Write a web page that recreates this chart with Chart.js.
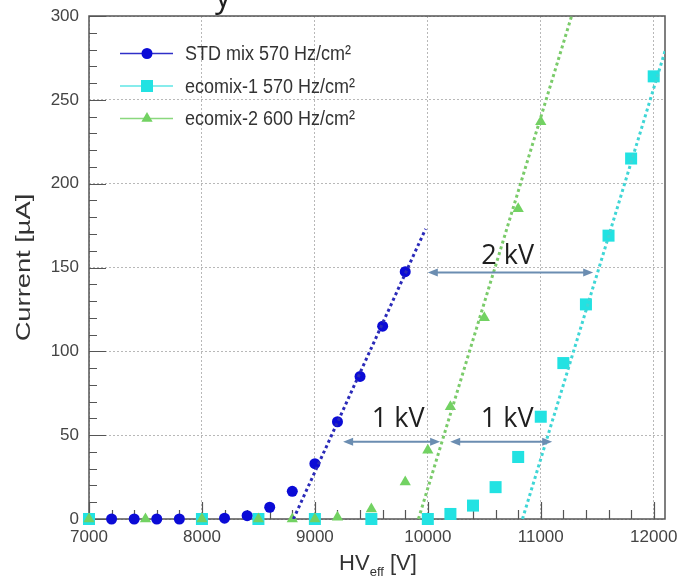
<!DOCTYPE html>
<html><head><meta charset="utf-8">
<script src="https://cdn.jsdelivr.net/npm/chart.js@4.4.1/dist/chart.umd.min.js"></script>
<style>html,body{margin:0;padding:0;background:#fff}#wrap{width:679px;height:580px;position:relative}</style>
</head><body><div id="wrap"><canvas id="c" width="679" height="580"></canvas></div>
<script>
// ---- data ----
const seriesNames = ['STD mix 570 Hz/cm²', 'ecomix-1 570 Hz/cm²', 'ecomix-2 600 Hz/cm²'];
const stdHV       = [7200, 7400, 7600, 7800, 8200, 8400, 8600, 8800, 9000, 9200, 9400, 9600, 9800];
const stdCurrent  = [0, 0, 0, 0, 0.5, 2, 7, 16.5, 33, 58, 85, 115, 147.5];
const eco1HV      = [7000, 8000, 8500, 9000, 9500, 10000, 10200, 10400, 10600, 10800, 11000, 11200, 11400, 11600, 11800, 12000];
const eco1Current = [0, 0, 0, 0, 0, 0, 3, 8, 19, 37, 61, 93, 128, 169, 215, 264];
const eco2HV      = [7000, 7500, 8000, 8500, 8800, 9000, 9200, 9500, 9800, 10000, 10200, 10500, 10800, 11000];
const eco2Current = [0, 0, 0, 0, 0, 0, 1, 6, 22, 41, 67, 120, 185, 237];
const stdFitHV  = [8810, 9980],   stdFitCurrent  = [0, 173];
const eco1FitHV = [10838, 12100], eco1FitCurrent = [0, 279];
const eco2FitHV = [9917, 11273],  eco2FitCurrent = [0, 300];
const xTicks = [7000, 8000, 9000, 10000, 11000, 12000];
const xTickLabels = ['7000', '8000', '9000', '10000', '11000', '12000'];
const yTicks = [0, 50, 100, 150, 200, 250, 300];
const yTickLabels = ['0', '50', '100', '150', '200', '250', '300'];
const xTitle = ['HV', 'eff', ' [V]'];
const yTitle = 'Current [µA]';
const arrowText = ['2 kV', '1 kV', '1 kV'];
const arrowFrom = [10000, 9250, 10198];
const arrowTo   = [11464, 10109, 11101];
const arrowAt   = [147, 46, 46];
const textX = [10707, 9737, 10702];
const textY = [158, 60.7, 60.7];

// ---- styles ----
const FONT = "'Liberation Sans', Arial, Helvetica, sans-serif";
const BLUE = '#0b0bd6', CYAN = '#22e2e2', GREEN = '#72d262';
const BLUE_L = '#2a2ab8', CYAN_L = '#3fd6d6', GREEN_L = '#7acb6a';
const toXY = (xs, ys) => xs.map((x, i) => ({x: x, y: ys[i]}));

function marker(ctx, style, x, y, r, color) {
  ctx.fillStyle = color;
  ctx.beginPath();
  if (style === 'circle') ctx.arc(x, y, r, 0, Math.PI * 2);
  else if (style === 'rect') { const s = r * Math.SQRT1_2; ctx.rect(x - s, y - s, 2 * s, 2 * s); }
  else { ctx.moveTo(x, y - r); ctx.lineTo(x + r * 0.866, y + r / 2); ctx.lineTo(x - r * 0.866, y + r / 2); ctx.closePath(); }
  ctx.fill();
}

const framePlugin = {
  id: 'framePlugin',
  beforeDatasetsDraw(chart) {
    const {ctx, chartArea: a, scales: {x, y}} = chart;
    ctx.save();
    ctx.strokeStyle = '#555'; ctx.lineWidth = 1.2;
    ctx.beginPath();
    for (let v = 7000; v <= 12000; v += 200) {
      const px = Math.round(x.getPixelForValue(v)) + 0.5;
      const L = v % 1000 === 0 ? 17 : 9;
      ctx.moveTo(px, a.bottom); ctx.lineTo(px, a.bottom - L);
    }
    for (let v = 0; v <= 300; v += 10) {
      const py = Math.round(y.getPixelForValue(v)) + 0.5;
      const L = v % 50 === 0 ? 17 : 8;
      ctx.moveTo(a.left, py); ctx.lineTo(a.left + L, py);
    }
    ctx.stroke();
    ctx.lineWidth = 1.5;
    ctx.strokeRect(a.left, a.top, a.right - a.left, a.bottom - a.top);
    ctx.restore();
  }
};

const annotPlugin = {
  id: 'annotPlugin',
  afterDatasetsDraw(chart) {
    const {ctx, scales: {x, y}} = chart;
    ctx.save();
    ctx.strokeStyle = '#6b8db1'; ctx.fillStyle = '#6b8db1'; ctx.lineWidth = 2;
    for (let i = 0; i < arrowText.length; i++) {
      const x1 = x.getPixelForValue(arrowFrom[i]), x2 = x.getPixelForValue(arrowTo[i]);
      const py = y.getPixelForValue(arrowAt[i]);
      ctx.beginPath(); ctx.moveTo(x1 + 6, py); ctx.lineTo(x2 - 6, py); ctx.stroke();
      ctx.beginPath(); ctx.moveTo(x1, py); ctx.lineTo(x1 + 10, py - 4); ctx.lineTo(x1 + 10, py + 4); ctx.closePath(); ctx.fill();
      ctx.beginPath(); ctx.moveTo(x2, py); ctx.lineTo(x2 - 10, py - 4); ctx.lineTo(x2 - 10, py + 4); ctx.closePath(); ctx.fill();
    }
    ctx.fillStyle = '#1e1e1e';
    ctx.font = "27px 'Open Sans', 'Noto Sans', sans-serif";
    ctx.textAlign = 'center'; ctx.textBaseline = 'alphabetic';
    for (let i = 0; i < arrowText.length; i++) {
      ctx.fillText(arrowText[i], x.getPixelForValue(textX[i]), y.getPixelForValue(textY[i]) + 9.6);
    }
    ctx.restore();
  },
  afterDraw(chart) {
    const {ctx, chartArea: a} = chart;
    ctx.save();
    // clipped title fragment at top
    ctx.fillStyle = '#1e1e1e';
    ctx.font = "32px 'Open Sans', sans-serif";
    ctx.textAlign = 'center'; ctx.textBaseline = 'alphabetic';
    ctx.fillText('y', 223, 7);
    // legend
    const styles = ['circle', 'rect', 'triangle'];
    const cols = [BLUE, CYAN, GREEN];
    const lcols = ['#3030c8', '#5fe6e6', '#8ad87e'];
    const radii = [5.5, 8.5, 6.5];
    for (let i = 0; i < 3; i++) {
      const ly = a.top + 37.5 + i * 32.5;
      ctx.strokeStyle = lcols[i]; ctx.lineWidth = 1.5;
      ctx.beginPath(); ctx.moveTo(a.left + 31, ly); ctx.lineTo(a.left + 84, ly); ctx.stroke();
      marker(ctx, styles[i], a.left + 58, ly, radii[i], cols[i]);
      ctx.save();
      ctx.translate(a.left + 96, ly + 6.5);
      ctx.scale(1, 1.17);
      ctx.fillStyle = '#333';
      ctx.font = '18px ' + FONT;
      ctx.textAlign = 'left';
      ctx.fillText(seriesNames[i], 0, 0);
      ctx.restore();
    }
    // x title with subscript
    ctx.fillStyle = '#333';
    ctx.font = '22px ' + FONT;
    const w0 = ctx.measureText(xTitle[0]).width, w2 = ctx.measureText(xTitle[2]).width;
    ctx.font = '13px ' + FONT;
    const w1 = ctx.measureText(xTitle[1]).width;
    let tx = 378 - (w0 + w1 + w2) / 2;
    ctx.textAlign = 'left';
    ctx.font = '22px ' + FONT; ctx.fillText(xTitle[0], tx, 570); tx += w0;
    ctx.font = '13px ' + FONT; ctx.fillText(xTitle[1], tx, 576); tx += w1;
    ctx.font = '22px ' + FONT; ctx.fillText(xTitle[2], tx, 570);
    // y title (rotated)
    ctx.save();
    ctx.translate(30, (a.top + a.bottom) / 2);
    ctx.rotate(-Math.PI / 2);
    ctx.scale(1.3, 1);
    ctx.font = '21px ' + FONT;
    ctx.textAlign = 'center';
    ctx.fillText(yTitle, 0, 0);
    ctx.restore();
    ctx.restore();
  }
};

const pointDs = (label, data, style, r, color) => ({
  type: 'scatter', label, data, pointStyle: style, pointRadius: r, pointHoverRadius: r,
  backgroundColor: color, borderColor: color, pointBorderWidth: 0, borderWidth: 0, showLine: false, clip: false
});
const fitDs = (data, color) => ({
  type: 'line', data, borderColor: color, borderWidth: 3, borderDash: [3, 3], pointRadius: 0,
  fill: false, tension: 0, showLine: true
});

new Chart(document.getElementById('c'), {
  type: 'scatter',
  data: {
    datasets: [
      fitDs(toXY(stdFitHV, stdFitCurrent), BLUE_L),
      fitDs(toXY(eco2FitHV, eco2FitCurrent), GREEN_L),
      fitDs(toXY(eco1FitHV, eco1FitCurrent), CYAN_L),
      pointDs(seriesNames[0], toXY(stdHV, stdCurrent), 'circle', 5.5, BLUE),
      pointDs(seriesNames[2], toXY(eco2HV, eco2Current), 'triangle', 6.5, GREEN),
      pointDs(seriesNames[1], toXY(eco1HV, eco1Current), 'rect', 8.5, CYAN)
    ]
  },
  options: {
    responsive: false, animation: false, devicePixelRatio: 1,
    layout: {padding: {top: 16, right: 14, left: 0, bottom: 0}},
    plugins: {legend: {display: false}, tooltip: {enabled: false}},
    scales: {
      x: {
        type: 'linear', min: 7000, max: 12100,
        afterBuildTicks: s => { s.ticks = xTicks.map(v => ({value: v})); },
        afterFit: s => { s.height = 61; s.paddingLeft = 0; s.paddingRight = 0; },
        ticks: {font: {family: FONT, size: 17}, color: '#444', padding: 8, maxRotation: 0, autoSkip: false,
                callback: v => { const i = xTicks.indexOf(v); return i >= 0 ? xTickLabels[i] : ''; }},
        grid: {color: '#b8b8b8', lineWidth: 1, drawTicks: false},
        border: {display: false, dash: [2, 2]}
      },
      y: {
        type: 'linear', min: 0, max: 300,
        afterBuildTicks: s => { s.ticks = yTicks.map(v => ({value: v})); },
        afterFit: s => { s.width = 89; s.paddingTop = 0; s.paddingBottom = 0; },
        ticks: {font: {family: FONT, size: 17}, color: '#444', padding: 10, autoSkip: false,
                callback: v => { const i = yTicks.indexOf(v); return i >= 0 ? yTickLabels[i] : ''; }},
        grid: {color: '#b8b8b8', lineWidth: 1, drawTicks: false},
        border: {display: false, dash: [2, 2]}
      }
    }
  },
  plugins: [framePlugin, annotPlugin]
});
</script>
</body></html>
